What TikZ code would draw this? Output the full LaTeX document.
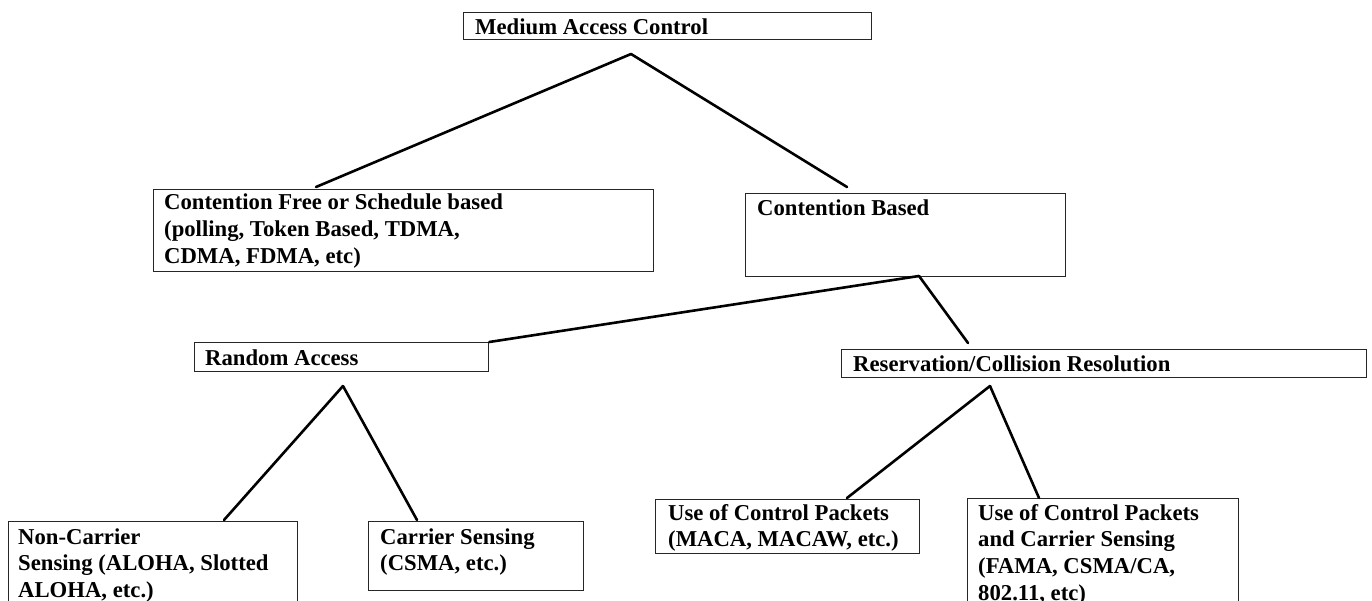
\documentclass[tikz,border=0pt]{standalone}
\usepackage{fontspec}
\setmainfont{Liberation Serif}
\newcommand{\lbfont}{\fontsize{22.7}{26.7}\selectfont\bfseries}
\begin{document}
\begin{tikzpicture}[x=1pt,y=-1pt,
  boxnode/.style={draw=black!85, line width=1.3pt, inner sep=0pt, anchor=north west, rectangle},
  lbl/.style={inner sep=0pt, anchor=base west, font=\lbfont, align=left},
  link/.style={line width=2.6pt, line cap=round}]
\useasboundingbox (0,0) rectangle (1372,601);
\clip (0,0) rectangle (1372,601);
% boxes
\node[boxnode, minimum width=408pt, minimum height=27pt] (mac) at (463,12) {};
\node[boxnode, minimum width=500pt, minimum height=82pt] (cf) at (153,189) {};
\node[boxnode, minimum width=320pt, minimum height=83pt] (cb) at (745,193) {};
\node[boxnode, minimum width=294pt, minimum height=29pt] (ra) at (194,342) {};
\node[boxnode, minimum width=525pt, minimum height=28pt] (rcr) at (841,349) {};
\node[boxnode, minimum width=289pt, minimum height=100pt] (nc) at (8,521) {};
\node[boxnode, minimum width=215pt, minimum height=69pt] (cs) at (368,521) {};
\node[boxnode, minimum width=264pt, minimum height=54pt] (ucp) at (655,499) {};
\node[boxnode, minimum width=271pt, minimum height=110pt] (ucpcs) at (967,498) {};
% labels
\node[lbl] (tmac) at (475,35) {Medium Access Control};
\node[lbl] (tcf) at (164,210) {\parbox[t]{480pt}{Contention Free or Schedule based\\(polling, Token Based, TDMA,\\CDMA, FDMA, etc)}};
\node[lbl] (tcb) at (757,216) {Contention Based};
\node[lbl] (tra) at (205,365) {Random Access};
\node[lbl] (trcr) at (853,371) {Reservation/Collision Resolution};
\node[lbl] (tnc) at (18,544) {\parbox[t]{280pt}{Non-Carrier\\Sensing (ALOHA, Slotted\\ALOHA, etc.)}};
\node[lbl] (tcs) at (380,544) {\parbox[t]{200pt}{Carrier Sensing\\(CSMA, etc.)}};
\node[lbl] (tucp) at (668,520) {\parbox[t]{250pt}{Use of Control Packets\\(MACA, MACAW, etc.)}};
\node[lbl] (tucpcs) at (978,520) {\parbox[t]{260pt}{Use of Control Packets\\and Carrier Sensing\\(FAMA, CSMA/CA,\\802.11, etc)}};
% apex points
\coordinate (a1) at (631,54);
\coordinate (a2) at (919,276);
\coordinate (a3) at (343,386);
\coordinate (a4) at (990,386);
% connectors
\draw[link] (a1) -- ([shift={(163,-2)}]cf.north west);
\draw[link] (a1) -- ([shift={(102,-6)}]cb.north west);
\draw[link] (a2) -- (ra.north east);
\draw[link] (a2) -- ([shift={(127,-6)}]rcr.north west);
\draw[link] (a3) -- ([shift={(216,-1)}]nc.north west);
\draw[link] (a3) -- ([shift={(49,-1)}]cs.north west);
\draw[link] (a4) -- ([shift={(192,-1)}]ucp.north west);
\draw[link] (a4) -- ([shift={(72,0)}]ucpcs.north west);
\end{tikzpicture}
\end{document}
